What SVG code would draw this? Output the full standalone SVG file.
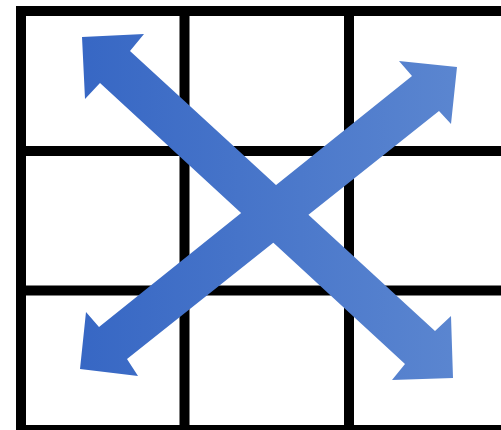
<svg xmlns="http://www.w3.org/2000/svg" width="501" height="430" viewBox="0 0 501 430">
<defs>
<linearGradient id="blue" gradientUnits="userSpaceOnUse" x1="80" y1="200" x2="460" y2="200">
<stop offset="0" stop-color="#3767C4"/>
<stop offset="1" stop-color="#5B86D0"/>
</linearGradient>
<style>
.grid line { stroke: #000; stroke-width: 10; }
.arrow { fill: url(#blue); }
</style>
</defs>
<rect width="501" height="430" fill="#fff"/>
<g id="grid" class="grid">
<line x1="16" y1="11" x2="501" y2="11"/>
<line x1="16" y1="151" x2="501" y2="151"/>
<line x1="16" y1="290.5" x2="501" y2="290.5"/>
<line x1="16" y1="430" x2="501" y2="430"/>
<line x1="21" y1="6" x2="21" y2="430"/>
<line x1="184.5" y1="6" x2="184.5" y2="430"/>
<line x1="349" y1="6" x2="349" y2="430"/>
</g>
<g id="arrows">
<polygon id="arrow-nw-se" class="arrow" points="82,37 144,34 130,51 435,331 451,316 453,378 392,380 405,364 100,83 85,99"/>
<polygon id="arrow-sw-ne" class="arrow" points="457,67 451,124 439,111 127,359 138,376 80,369 86,312 99,327 412,76 399,61"/>
</g>
</svg>
